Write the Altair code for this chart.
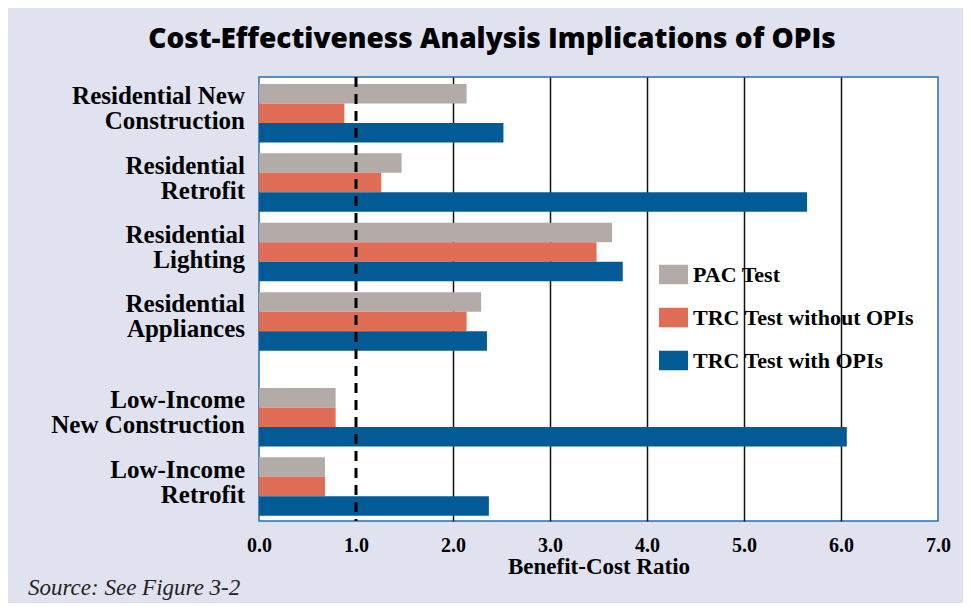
import altair as alt
import pandas as pd

# ---------------- data ----------------
categories = [
    "Residential New\nConstruction",
    "Residential\nRetrofit",
    "Residential\nLighting",
    "Residential\nAppliances",
    "Low-Income\nNew Construction",
    "Low-Income\nRetrofit",
]
series = ["PAC Test", "TRC Test without OPIs", "TRC Test with OPIs"]
pac = [2.14, 1.47, 3.64, 2.29, 0.79, 0.68]
trc_without = [0.88, 1.26, 3.48, 2.14, 0.79, 0.68]
trc_with = [2.52, 5.65, 3.75, 2.35, 6.06, 2.37]
threshold = [1.0]
x_ticks = [0, 1, 2, 3, 4, 5, 6, 7]
colors = ["#b3aba8", "#e06e56", "#035b96"]

TITLE = "Cost-Effectiveness Analysis Implications of OPIs"
SOURCE = "Source: See Figure 3-2"

# ---------------- layout constants ----------------
W, H = 679, 444
STEP = 69.4                 # px per group slot
YMAX = H / STEP
GAP = 0.38                  # extra space before low-income groups
LEAD = 0.10
BAR = 0.281

rows = []
for gi, cat in enumerate(categories):
    for si, vals in enumerate([pac, trc_without, trc_with]):
        rows.append({"category": cat, "group": gi, "slot": si,
                     "series": series[si], "value": vals[gi]})
df = pd.DataFrame(rows)
df_labels = pd.DataFrame({"category": categories, "group": list(range(len(categories)))})
df_rule = pd.DataFrame({"value": threshold})

xscale = alt.Scale(domain=[0, 7], nice=False, zero=True)
yscale = alt.Scale(domain=[0, YMAX], reverse=True, nice=False, zero=False)

serif = "Liberation Serif"

xaxis = alt.Axis(
    values=x_ticks, format=".1f", title="Benefit-Cost Ratio",
    domain=False, ticks=False, labelFlush=False,
    labelFont=serif, labelFontWeight="bold", labelFontSize=20, labelColor="black",
    labelPadding=14,
    titleFont=serif, titleFontWeight="bold", titleFontSize=23, titleColor="black",
    titleY=52, titleBaseline="alphabetic",
    grid=True, gridColor="#111111", gridWidth=1.5,
    gridOpacity={"condition": {"test": "datum.value == 0 || datum.value == 1 || datum.value == 7",
                               "value": 0}, "value": 1},
)

bars = alt.Chart(df).transform_calculate(
    top=f"datum.group + (datum.group >= 4 ? {GAP} : 0) + {LEAD} + datum.slot * {BAR}"
).transform_calculate(
    bottom=f"datum.top + {BAR}"
).mark_rect().encode(
    x=alt.X("value:Q", scale=xscale, axis=xaxis),
    x2=alt.datum(0),
    y=alt.Y("top:Q", scale=yscale, axis=None),
    y2="bottom:Q",
    color=alt.Color(
        "series:N",
        scale=alt.Scale(domain=series, range=colors),
        legend=alt.Legend(
            title=None, orient="none", legendX=400, legendY=183, padding=0,
            symbolType="M-1,-0.672L1,-0.672L1,0.672L-1,0.672Z", symbolSize=841,
            symbolStrokeWidth=0, symbolOpacity=1,
            labelFont=serif, labelFontWeight="bold", labelFontSize=22,
            labelColor="black", labelOffset=5, rowPadding=17, labelLimit=400,
        ),
    ),
)

rule = alt.Chart(df_rule).mark_rule(
    color="black", strokeWidth=3, strokeDash=[10, 7]
).encode(x=alt.X("value:Q", scale=xscale, title="Benefit-Cost Ratio"))

labels = alt.Chart(df_labels).transform_calculate(
    center=f"datum.group + (datum.group >= 4 ? {GAP} : 0) + {LEAD} + 1.5 * {BAR}"
).mark_text(
    align="right", baseline="middle", dy=-17, lineBreak="\n",
    font=serif, fontWeight="bold", fontSize=25, lineHeight=25, color="black",
).encode(
    x=alt.value(-14),
    y=alt.Y("center:Q", scale=yscale, axis=None),
    text="category:N",
)

title = alt.Chart(pd.DataFrame({"t": [TITLE]})).mark_text(
    align="center", baseline="alphabetic", font="Open Sans", fontWeight=800,
    fontSize=28, color="black",
).encode(x=alt.value(233), y=alt.value(-29), text="t:N")

source = alt.Chart(pd.DataFrame({"t": [SOURCE]})).mark_text(
    align="left", baseline="alphabetic", font=serif, fontStyle="italic",
    fontSize=23, color="#222222",
).encode(x=alt.value(-231), y=alt.value(518), text="t:N")

chart = alt.layer(bars, rule, labels, title, source).properties(
    width=W, height=H,
    autosize=alt.AutoSizeParams(type="none"),
    padding={"left": 251, "top": 69, "right": 25, "bottom": 82},
    background="#e0e3ef",
).configure_view(
    fill="white", stroke="#2a6db0", strokeWidth=1.5,
)

chart.save("out.html", embed_options={"renderer": "svg", "actions": False})
